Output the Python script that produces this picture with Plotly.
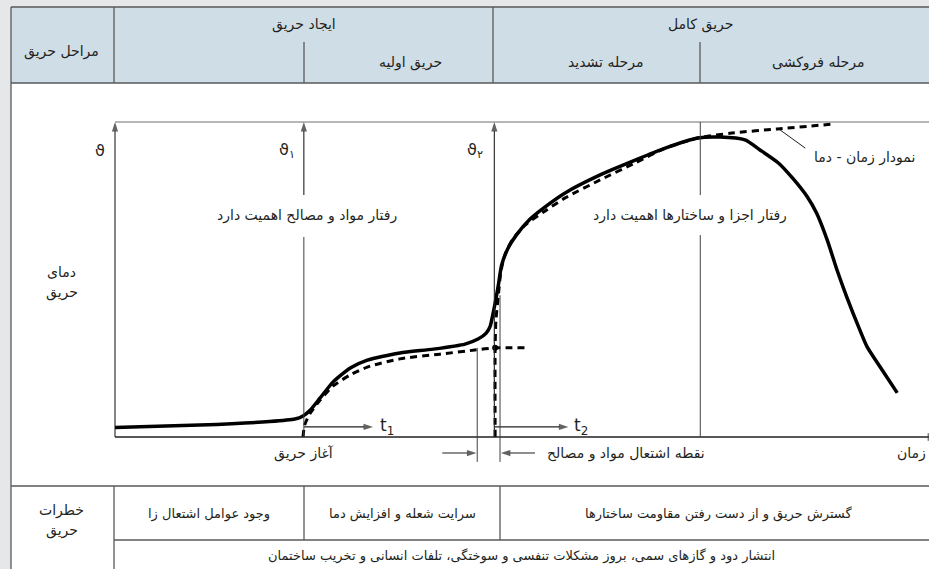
import plotly.graph_objects as go

W, H = 929, 569

# stage headers
stage_groups = ['ایجاد حریق', 'حریق کامل']
stage_phases = ['حریق اولیه', 'مرحله تشدید', 'مرحله فروکشی']
stage_title = 'مراحل حریق'

# hazards table
hazard_title = ['خطرات', 'حریق']
hazard_cells = ['وجود عوامل اشتعال زا', 'سرایت شعله و افزایش دما',
                'گسترش حریق و از دست رفتن مقاومت ساختارها']
hazard_common = 'انتشار دود و گازهای سمی، بروز مشکلات تنفسی و سوختگی، تلفات انسانی و تخریب ساختمان'

fire_t = [0, 10.4, 19.0, 22.1, 23.1, 24.0, 25.2, 26.8, 28.9, 31.0, 35.0, 39.1, 43.0,
          44.6, 45.6, 46.1, 46.4, 46.7, 47.1, 47.5, 48.3, 49.3, 51.0, 52.8, 55.3, 59.6,
          63.9, 67.6, 71.6, 74.3, 77.4, 79.2, 81.5, 83.3, 85.0, 86.2, 87.5, 88.7, 89.9,
          91.5, 92.4, 94.0, 96.1]
fire_T = [3.0, 3.8, 4.9, 5.7, 6.7, 8.6, 12.4, 17.5, 21.9, 24.4, 26.7, 27.9, 29.5,
          31.1, 33.0, 35.2, 38.7, 42.5, 48.3, 54.6, 60.0, 64.1, 69.2, 73.0, 77.5, 83.2,
          87.9, 91.7, 94.9, 95.2, 94.3, 91.2, 87.0, 82.0, 76.4, 71.0, 62.5, 53.0, 44.4,
          34.0, 28.6, 22.2, 14.0]

# growth curve before flashover
grow_t = [23.1, 23.3, 24.0, 25.2, 26.8, 28.9, 31.0, 35.0, 39.9, 44.2, 46.7, 50.6]
grow_T = [0, 3.8, 7.6, 11.7, 16.2, 19.7, 22.2, 24.8, 26.3, 27.6, 28.3, 28.3]

# standard time-temperature curve
iso_t = [46.7, 46.7, 46.8, 47.1, 47.4, 47.9, 48.8, 50.4, 52.8, 55.3, 59.6, 63.9,
         67.6, 71.6, 75.8, 81.4, 88.5]
iso_T = [0, 28.3, 37.1, 45.1, 52.4, 57.8, 62.5, 67.3, 71.7, 75.9, 81.6, 87.0,
         91.7, 94.9, 96.5, 97.8, 99.4]

# key instants
t_start = 23.2      # fire start
t_flash = 46.6      # ignition point
t_full = 71.9       # full development
T_flash = 28.3

# arrows: (tail t, tail T, head t, head T)
arrows = [
    (0, 0, 0, 100),
    (t_start, 76.8, t_start, 100),
    (t_flash, 0, t_flash, 100),
    (t_start, 3.2, 31.7, 3.2),
    (t_flash, 3.2, 55.7, 3.2),
    (40.2, -5.1, 44.4, -5.1),
    (51.6, -5.1, 47.4, -5.1),
]

FONT = 'DejaVu Sans'
TXT = '#231f20'
LINE = '#58595b'


def px(x):
    return x / W


def py(y):
    return 1 - y / H


fig = go.Figure()

fig.add_trace(go.Scatter(x=grow_t, y=grow_T, mode='lines',
                         line=dict(color='black', width=3, dash='7px,5px',
                                   shape='spline', smoothing=0.7),
                         hoverinfo='skip'))
fig.add_trace(go.Scatter(x=iso_t, y=iso_T, mode='lines',
                         line=dict(color='black', width=3, dash='7px,5px',
                                   shape='spline', smoothing=0.7),
                         hoverinfo='skip'))
fig.add_trace(go.Scatter(x=fire_t, y=fire_T, mode='lines',
                         line=dict(color='black', width=3.5, shape='spline', smoothing=0.6),
                         hoverinfo='skip'))
fig.add_trace(go.Scatter(x=[t_flash + 0.1], y=[T_flash], mode='markers',
                         marker=dict(color='black', size=6), hoverinfo='skip'))

for x0, y0, x1, y1 in arrows:
    fig.add_trace(go.Scatter(x=[x0, x1], y=[y0, y1], mode='lines+markers',
                             line=dict(color='#231f20', width=1.1),
                             marker=dict(symbol='arrow', angleref='previous', size=[0, 10],
                                         color='#231f20', line=dict(width=0)),
                             cliponaxis=False, hoverinfo='skip'))

shapes = []
# page frame and header band
shapes.append(dict(type='rect', xref='paper', yref='paper', x0=px(11), x1=1,
                   y0=0, y1=py(7), fillcolor='white', line=dict(width=0), layer='below'))
shapes.append(dict(type='rect', xref='paper', yref='paper', x0=px(11), x1=1,
                   y0=py(83), y1=py(7), fillcolor='#cfdde6', line=dict(width=0), layer='below'))


def pline(x0, y0, x1, y1, w=1.3, c=LINE):
    shapes.append(dict(type='line', xref='paper', yref='paper', x0=px(x0), y0=py(y0),
                       x1=px(x1), y1=py(y1), line=dict(color=c, width=w)))


pline(11, 7, W, 7)
pline(11, 7, 11, H)
pline(11, 83, W, 83)
pline(114, 7, 114, 83)
pline(493, 7, 493, 83)
pline(304, 42, 304, 83)
pline(700, 42, 700, 83)
pline(11, 486, W, 486)
pline(114, 486, 114, H)
pline(114, 540, W, 540)
pline(304, 486, 304, 540)
pline(500, 486, 500, 540)


def dline(x0, y0, x1, y1, w=1, c='#404041'):
    shapes.append(dict(type='line', xref='x', yref='y', x0=x0, y0=y0, x1=x1, y1=y1,
                       line=dict(color=c, width=w)))


dline(0, 100, 100, 100, c='#6d6e70')          # top border of plot
dline(0, 0, 100, 0, w=1.3, c='#231f20')       # time axis
dline(99.9, -1.2, 99.9, 1.2)
dline(t_start, 0, t_start, 63.5)
dline(t_full, 0, t_full, 64.1)
dline(t_full, 76.8, t_full, 100)
dline(44.5, T_flash, 44.5, -7.9)
dline(47.3, 45.0, 47.3, -7.9)
dline(81.7, 97.5, 84.8, 91.7, c='#231f20')    # leader of the curve label

ann = []


def dtext(x, y, s, size=13, xanchor='center'):
    ann.append(dict(x=x, y=y, xref='x', yref='y', text=s, showarrow=False,
                    xanchor=xanchor, yanchor='middle',
                    font=dict(family=FONT, size=size, color=TXT)))


def ptext(x, y, s, size=13, xanchor='center'):
    ann.append(dict(x=px(x), y=py(y), xref='paper', yref='paper', text=s, showarrow=False,
                    xanchor=xanchor, yanchor='middle',
                    font=dict(family=FONT, size=size, color=TXT)))


# chart labels
dtext(-1.9, 91.1, 'ϑ', size=16)
dtext(21.1, 91.1, 'ϑ<sub>۱</sub>', size=16)
dtext(44.2, 91.1, 'ϑ<sub>۲</sub>', size=16)
dtext(23.6, 70.2, 'رفتار مواد و مصالح اهمیت دارد', size=14)
dtext(70.6, 70.2, 'رفتار اجزا و ساختارها اهمیت دارد', size=14)
dtext(92.1, 88.6, 'نمودار زمان - دما', size=14)
dtext(32.3, 3.2, 't<sub>1</sub>', size=17, xanchor='left')
dtext(56.2, 3.2, 't<sub>2</sub>', size=17, xanchor='left')
dtext(t_start, -5.3, 'آغاز حریق', size=14)
dtext(62.8, -5.3, 'نقطه اشتعال مواد و مصالح', size=14)
dtext(95.8, -5.3, 'زمان', size=14, xanchor='left')

ptext(62, 272, 'دمای', size=14)
ptext(62, 292, 'حریق', size=14)

# header texts
ptext(62, 51, stage_title, size=14)
ptext(304, 24, stage_groups[0], size=14)
ptext(700, 24, stage_groups[1], size=14)
ptext(410, 63, stage_phases[0], size=14)
ptext(605, 63, stage_phases[1], size=14)
ptext(818, 63, stage_phases[2], size=14)

# hazards texts
ptext(62, 510, hazard_title[0], size=14)
ptext(62, 530, hazard_title[1], size=14)
ptext(209, 514, hazard_cells[0], size=13)
ptext(402, 514, hazard_cells[1], size=13)
ptext(718, 514, hazard_cells[2], size=13)
ptext(521, 556, hazard_common, size=13)

fig.update_layout(
    width=W, height=H,
    margin=dict(l=0, r=0, t=0, b=0),
    paper_bgcolor='#e6e7e9',
    plot_bgcolor='rgba(0,0,0,0)',
    showlegend=False,
    shapes=shapes,
    annotations=ann,
    xaxis=dict(range=[-2, 100], domain=[px(115 - 2 * 8.14), 1],
               visible=False, fixedrange=True),
    yaxis=dict(range=[-15, 105], domain=[py(437 + 15 * 3.15), py(437 - 105 * 3.15)],
               visible=False, fixedrange=True),
)

# drop the default page margin so the figure fills the window
fig.write_html("out.html", config={'displayModeBar': False},
               post_script="document.body.style.margin='0';"
                           "document.body.style.overflow='hidden';")
